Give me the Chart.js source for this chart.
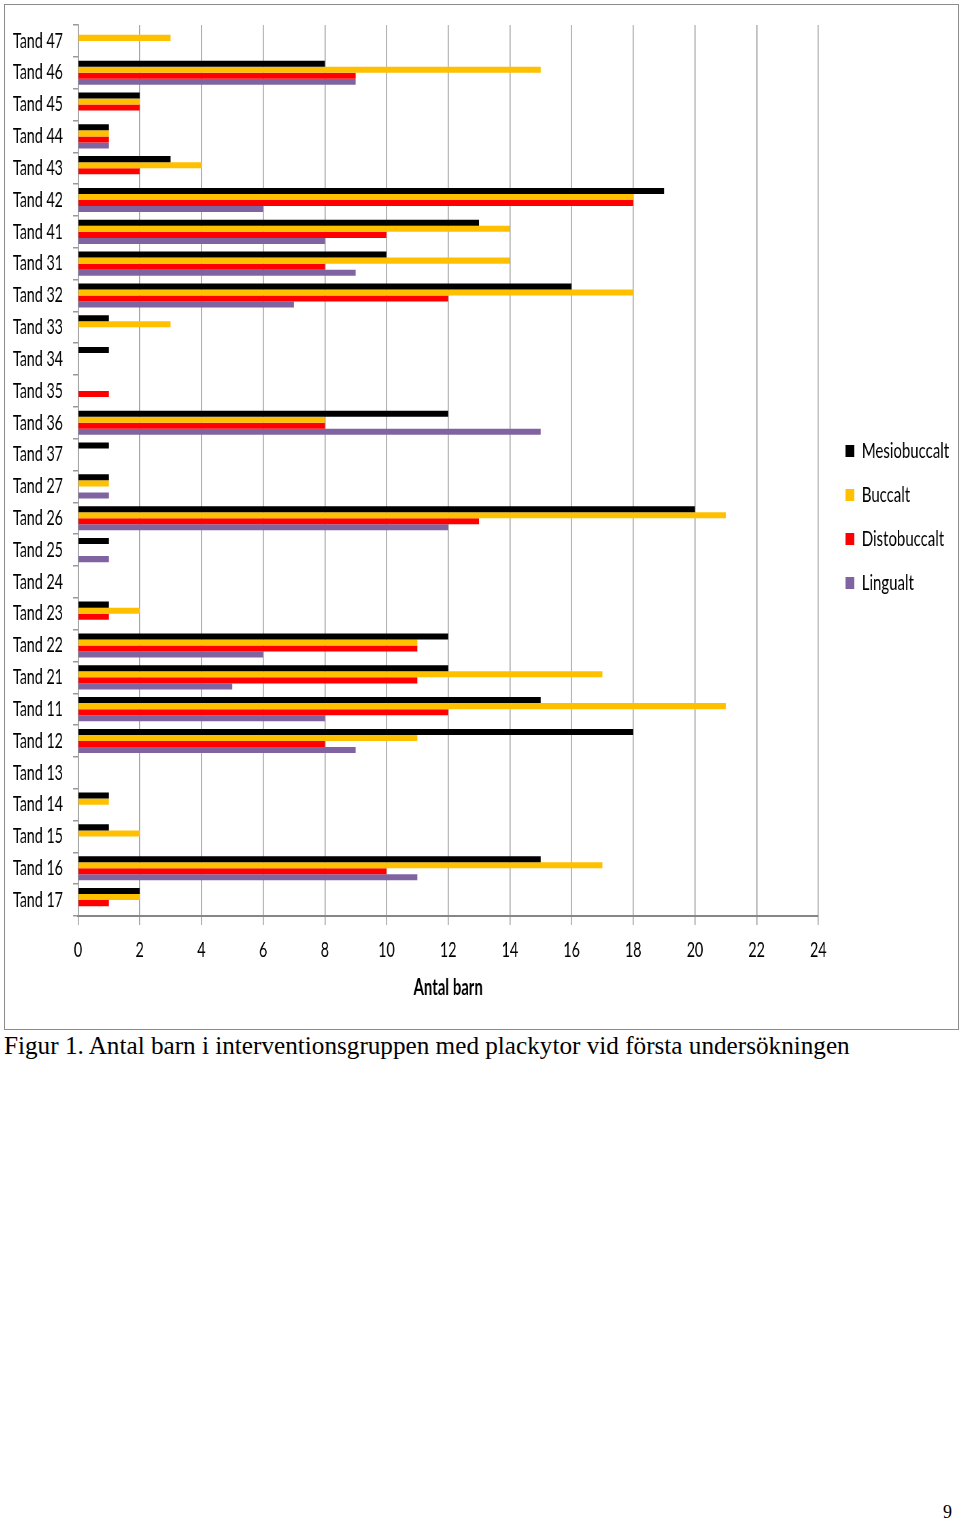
<!DOCTYPE html>
<html>
<head>
<meta charset="utf-8">
<script src="https://cdn.jsdelivr.net/npm/chart.js@4"></script>
<style>
  body { margin: 0; background: #fff; width: 960px; height: 1521px; position: relative; overflow: hidden; }
  #ram { position: absolute; left: 4px; top: 4px; width: 953px; height: 1024px; border: 1px solid #8c8c8c; overflow: hidden; }
  #smal { width: 1401px; height: 1004px; transform: scaleX(0.68); transform-origin: 0 0; }
  #figurtext { position: absolute; left: 4px; top: 1033px; font: 25.2px/25.2px "Liberation Serif", "Times New Roman", serif; color: #000; white-space: nowrap; }
  #sida { position: absolute; left: 943px; top: 1503px; font: 18px/18px "Liberation Serif", "Times New Roman", serif; color: #000; }
</style>
</head>
<body>
<div id="ram"><div id="smal"><canvas id="grafico" width="1401" height="1004"></canvas></div></div>
<div id="figurtext">Figur 1. Antal barn i interventionsgruppen med plackytor vid första undersökningen</div>
<div id="sida">9</div>
<script>
const tander = ['Tand 47', 'Tand 46', 'Tand 45', 'Tand 44', 'Tand 43', 'Tand 42', 'Tand 41', 'Tand 31', 'Tand 32', 'Tand 33',
  'Tand 34', 'Tand 35', 'Tand 36', 'Tand 37', 'Tand 27', 'Tand 26', 'Tand 25', 'Tand 24', 'Tand 23', 'Tand 22',
  'Tand 21', 'Tand 11', 'Tand 12', 'Tand 13', 'Tand 14', 'Tand 15', 'Tand 16', 'Tand 17'];
const mesiobuccalt = [0, 8, 2, 1, 3, 19, 13, 10, 16, 1, 1, 0, 12, 1, 1, 20, 1, 0, 1, 12, 12, 15, 18, 0, 1, 1, 15, 2];
const buccalt      = [3, 15, 2, 1, 4, 18, 14, 14, 18, 3, 0, 0, 8, 0, 1, 21, 0, 0, 2, 11, 17, 21, 11, 0, 1, 2, 17, 2];
const distobuccalt = [0, 9, 2, 1, 2, 18, 10, 8, 12, 0, 0, 1, 8, 0, 0, 13, 0, 0, 1, 11, 11, 12, 8, 0, 0, 0, 10, 1];
const lingualt     = [0, 9, 0, 1, 0, 6, 8, 9, 7, 0, 0, 0, 15, 0, 1, 12, 1, 0, 0, 6, 5, 8, 9, 0, 0, 0, 11, 0];
const xTicks = [0, 2, 4, 6, 8, 10, 12, 14, 16, 18, 20, 22, 24];

const serie = (label, data, color) => ({
  label: label,
  data: data,
  backgroundColor: color,
  borderWidth: 0,
  xAxisID: 'x',
  yAxisID: 'y',
  categoryPercentage: 0.76,
  barPercentage: 1.0
});

const config = {
  type: 'bar',
  data: {
    labels: tander,
    datasets: [
      serie('Mesiobuccalt', mesiobuccalt, '#000000'),
      serie('Buccalt', buccalt, '#FFC000'),
      serie('Distobuccalt', distobuccalt, '#FF0000'),
      serie('Lingualt', lingualt, '#8064A2')
    ]
  },
  options: {
    indexAxis: 'y',
    responsive: false,
    animation: false,
    layout: { padding: { top: 20, right: 7, left: 0, bottom: 0 } },
    plugins: {
      tooltip: { enabled: false },
      legend: {
        position: 'right',
        maxWidth: 180,
        labels: {
          color: '#000',
          font: { family: 'Lato', size: 22 },
          boxWidth: 13,
          boxHeight: 12,
          padding: 22
        }
      }
    },
    scales: {
      x: {
        min: 0,
        max: 24,
        afterBuildTicks: (scale) => { scale.ticks = xTicks.map(v => ({ value: v })); },
        afterFit: (scale) => { scale.height = 93; },
        ticks: { color: '#000', font: { family: 'Lato', size: 21 }, padding: 13 },
        grid: { color: '#999999', lineWidth: 1.5, tickLength: 9 },
        border: { color: '#868686', width: 2 },
        title: {
          display: true,
          text: 'Antal barn',
          color: '#000',
          font: { family: 'Lato', size: 22, weight: 'bold' },
          padding: { top: 0, bottom: 8 }
        }
      },
      y: {
        afterFit: (scale) => {
          scale.width = 107.4;
          scale.paddingTop = 0;
          scale.paddingBottom = 0;
        },
        ticks: { color: '#000', font: { family: 'Lato', size: 21 }, padding: 14.7 },
        grid: { drawOnChartArea: false, color: '#999999', lineWidth: 1.5, tickLength: 7.4 },
        border: { color: '#999999', width: 1.5 }
      },
      gap: {
        type: 'linear',
        position: 'right',
        ticks: { display: false },
        grid: { display: false },
        border: { display: false },
        afterFit: (scale) => { scale.width = 18; }
      }
    }
  }
};

const ctx = document.getElementById('grafico').getContext('2d');
new Chart(ctx, config);
</script>
</body>
</html>
